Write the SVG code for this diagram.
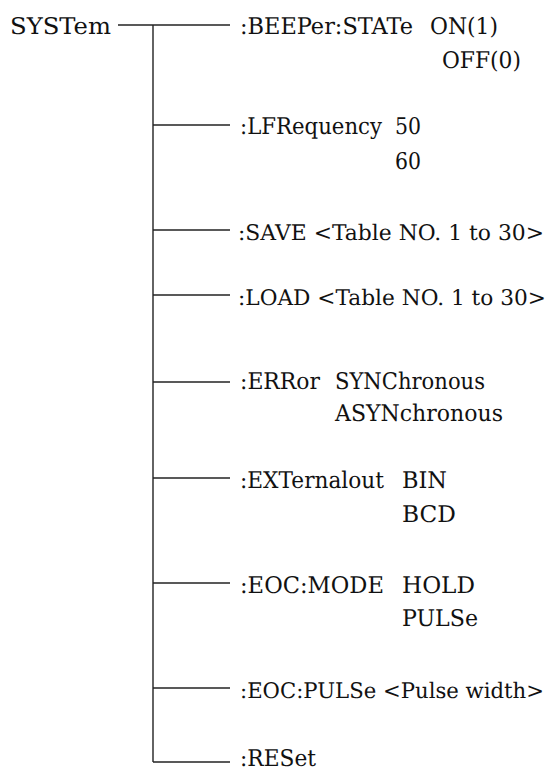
<svg xmlns="http://www.w3.org/2000/svg" width="553" height="773" viewBox="0 0 553 773">
<style>
.c line{stroke:#222;stroke-width:1.4;fill:none}
.t{font-family:"DejaVu Serif","Liberation Serif",serif;font-size:23px;fill:#111}
.long{font-size:21.5px}
</style>
<rect width="553" height="773" fill="#fff"/>
<g class="c" id="connectors">
<line x1="118" y1="25" x2="230" y2="25"/>
<line x1="153" y1="25" x2="153" y2="762"/>
<line x1="153" y1="125" x2="230" y2="125"/>
<line x1="153" y1="230" x2="230" y2="230"/>
<line x1="153" y1="295" x2="230" y2="295"/>
<line x1="153" y1="382" x2="230" y2="382"/>
<line x1="153" y1="478" x2="230" y2="478"/>
<line x1="153" y1="583" x2="230" y2="583"/>
<line x1="153" y1="688" x2="230" y2="688"/>
<line x1="153" y1="762" x2="230" y2="762"/>
</g>
<g class="t" text-rendering="geometricPrecision">
<g id="root"><text x="10" y="34" textLength="101" lengthAdjust="spacingAndGlyphs">SYSTem</text></g>
<g id="beeper"><text x="240" y="34" textLength="173" lengthAdjust="spacingAndGlyphs">:BEEPer:STATe</text><text x="430" y="34" textLength="68" lengthAdjust="spacingAndGlyphs">ON(1)</text><text x="442" y="68" textLength="79" lengthAdjust="spacingAndGlyphs">OFF(0)</text></g>
<g id="lfrequency"><text x="240" y="134" textLength="142" lengthAdjust="spacingAndGlyphs">:LFRequency</text><text x="395" y="134" textLength="26" lengthAdjust="spacingAndGlyphs">50</text><text x="395" y="169" textLength="26" lengthAdjust="spacingAndGlyphs">60</text></g>
<g id="save"><text class="long" x="238" y="240" textLength="306" lengthAdjust="spacingAndGlyphs">:SAVE &lt;Table NO. 1 to 30&gt;</text></g>
<g id="load"><text class="long" x="238" y="305" textLength="308" lengthAdjust="spacingAndGlyphs">:LOAD &lt;Table NO. 1 to 30&gt;</text></g>
<g id="error"><text x="240" y="389" textLength="80" lengthAdjust="spacingAndGlyphs">:ERRor</text><text x="335" y="389" textLength="150" lengthAdjust="spacingAndGlyphs">SYNChronous</text><text x="335" y="421" textLength="168" lengthAdjust="spacingAndGlyphs">ASYNchronous</text></g>
<g id="external"><text x="240" y="488" textLength="144" lengthAdjust="spacingAndGlyphs">:EXTernalout</text><text x="402" y="488" textLength="45" lengthAdjust="spacingAndGlyphs">BIN</text><text x="402" y="522" textLength="54" lengthAdjust="spacingAndGlyphs">BCD</text></g>
<g id="eocmode"><text x="240" y="593" textLength="144" lengthAdjust="spacingAndGlyphs">:EOC:MODE</text><text x="402" y="593" textLength="73" lengthAdjust="spacingAndGlyphs">HOLD</text><text x="402" y="626" textLength="76" lengthAdjust="spacingAndGlyphs">PULSe</text></g>
<g id="eocpulse"><text class="long" x="240" y="698" textLength="304" lengthAdjust="spacingAndGlyphs">:EOC:PULSe &lt;Pulse width&gt;</text></g>
<g id="reset"><text x="240" y="766" textLength="76" lengthAdjust="spacingAndGlyphs">:RESet</text></g>
</g>
</svg>
